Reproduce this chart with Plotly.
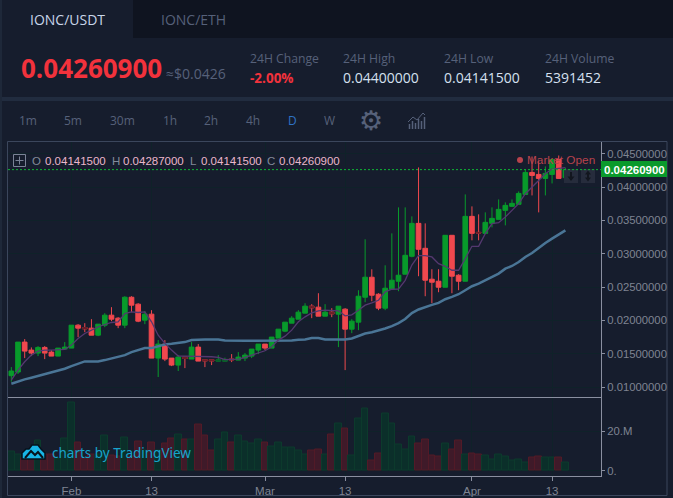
import pandas as pd
import plotly.graph_objects as go

SYMBOL_TABS = ["IONC/USDT", "IONC/ETH"]
INTERVALS = ["1m", "5m", "30m", "1h", "2h", "4h", "D", "W"]
PRICE_TICKS = [0.010, 0.015, 0.020, 0.025, 0.030, 0.035, 0.040, 0.045]
VOLUME_TICKS = [0, 20]
VOLUME_TICK_LABELS = ["0.", "20.M"]
DATE_TICKS = ["2020-02-01", "2020-02-13", "2020-03-01", "2020-03-13", "2020-04-01", "2020-04-13"]
DATE_TICK_LABELS = ["Feb", "13", "Mar", "13", "Apr", "13"]
dates = pd.date_range("2020-01-23", "2020-04-15", freq="D")

# prices in thousandths of a USDT
open_m = [11.70,12.25,16.74,15.54,15.09,15.94,15.24,14.64,15.69,15.84,19.28,18.93,18.83,17.78,19.28,20.78,20.33,19.28,23.47,22.43,20.03,20.93,14.34,16.44,14.34,13.29,14.49,14.19,15.99,14.09,14.09,13.89,13.89,
          14.19,14.04,14.34,14.64,15.54,16.44,15.84,17.34,18.38,19.58,20.18,21.08,22.13,21.98,20.63,21.23,20.93,21.68,18.68,19.73,23.47,26.47,23.92,21.83,24.67,
          25.87,26.92,29.61,34.55,30.81,26.17,25.87,24.97,32.76,26.77,25.87,35.60,33.20,33.05,34.55,35.15,36.50,37.10,37.40,38.89,42.19,41.89,41.29,41.89,44.13,41.415]
high_m = [12.99,16.74,17.19,15.94,16.14,16.14,15.54,15.84,16.74,19.28,19.43,19.58,20.18,19.43,21.08,21.98,20.48,23.62,23.62,22.58,21.38,21.53,17.04,17.04,14.34,14.79,14.49,16.74,16.44,14.09,14.09,14.79,14.40,
          14.94,15.24,15.09,15.69,16.44,16.44,17.49,18.68,19.73,20.63,21.53,22.57,22.43,24.07,22.43,21.83,22.13,21.83,20.18,24.52,32.16,27.66,24.07,28.26,33.05,
          36.95,36.95,35.60,42.94,34.55,27.67,27.67,32.76,32.76,26.92,38.89,37.10,35.90,36.20,36.95,38.14,37.70,38.14,39.34,42.64,44.58,43.98,43.09,44.28,44.73,42.87]
low_m = [10.80,11.95,14.34,14.64,14.64,14.19,14.64,14.64,15.69,15.84,17.48,18.23,17.78,17.63,18.98,19.88,18.83,18.83,21.23,19.73,19.43,14.34,11.50,13.89,13.14,12.40,12.84,14.19,13.89,12.99,13.29,13.89,13.89,
         13.74,14.04,13.89,14.34,14.94,15.54,15.84,17.34,18.23,19.58,20.18,21.08,20.33,20.63,20.63,20.48,15.99,12.54,18.08,18.53,22.72,22.87,21.53,21.53,24.67,
         24.37,26.92,29.46,26.62,23.62,22.58,24.22,24.97,24.07,24.52,25.87,32.01,32.01,33.05,33.95,35.15,34.25,37.10,37.40,38.89,38.74,36.20,38.74,40.54,41.29,41.415]
close_m = [12.40,16.74,15.39,15.09,15.94,15.09,14.64,15.84,15.99,19.28,18.83,18.73,17.78,19.43,20.78,20.18,19.28,23.47,22.28,19.88,20.93,14.34,16.44,14.19,13.29,14.49,14.29,15.99,13.89,13.94,13.94,14.04,14.14,
           14.09,14.49,14.79,15.69,16.44,15.84,17.49,18.68,19.73,20.33,21.23,22.13,21.88,20.63,21.23,20.98,22.13,18.68,19.88,23.62,26.47,23.77,21.83,24.82,26.02,
           26.77,29.76,34.55,30.66,26.02,25.72,24.97,32.76,26.62,25.87,35.60,33.05,33.10,34.70,35.30,36.65,37.25,37.55,39.04,42.19,41.74,41.29,42.04,44.13,41.29,42.609]
ma_short_m = [11.05,12.55,13.79,14.79,15.39,15.54,15.54,15.54,15.64,16.29,17.29,18.03,18.53,19.03,19.38,19.68,19.78,21.03,21.28,21.18,21.28,19.78,17.78,16.54,15.54,14.64,14.64,14.64,14.64,14.64,14.54,14.44,14.10,
              14.14,14.19,14.44,14.79,15.14,15.44,16.04,17.04,17.63,18.53,19.78,20.53,21.13,21.43,21.53,21.53,21.43,20.68,20.83,21.53,22.28,22.62,23.02,24.27,24.67,
              24.70,26.00,28.30,29.71,29.71,29.51,28.51,28.11,27.52,27.52,29.26,31.11,31.11,33.00,34.50,34.65,35.50,36.50,37.50,39.00,40.00,41.00,42.00,42.70,42.80,42.90]
ma_long_m = [10.50,10.85,11.15,11.40,11.65,11.90,12.25,12.50,12.74,13.14,13.54,13.84,13.84,13.84,14.04,14.29,14.44,14.79,15.24,15.54,15.84,15.84,16.14,16.39,16.49,16.59,16.74,17.04,17.14,17.14,17.14,17.14,16.99,
             16.94,16.94,16.94,16.94,16.94,16.94,16.94,16.94,16.94,16.99,17.09,17.14,17.34,17.34,17.14,17.14,17.14,17.14,17.29,17.63,18.03,18.23,18.48,18.78,19.13,
             19.60,20.20,21.10,21.63,22.03,22.33,22.63,23.17,23.52,23.92,24.52,25.12,25.52,26.02,26.52,27.02,27.76,28.16,28.76,29.51,30.11,30.91,31.61,32.26,32.91,33.50]
volume_M = [9.7,8.2,6.1,6.1,15.3,8.2,8.2,6.1,16.3,34.7,14.3,6.1,8.2,8.2,17.9,7.7,7.1,16.8,7.1,14.8,10.2,14.3,10.2,13.8,16.3,18.4,15.8,15.8,23.5,17.9,10.2,15.8,19.4,
            14.3,17.9,14.8,13.8,15.8,14.3,12.2,14.3,11.7,11.7,10.2,8.5,10.2,10.7,8.5,18.4,24.0,21.4,7.7,26.5,31.6,5.1,8.7,29.1,24.0,
            13.3,10.7,17.3,13.8,15.8,7.7,7.1,13.8,10.7,15.3,8.2,8.7,8.2,7.7,5.6,8.2,7.1,5.1,5.6,4.1,6.6,7.1,6.6,6.6,6.6,4.1]

W, H = 673, 498
GREEN, RED = "#089a2b", "#f0484e"
SANS, ARIAL = "Open Sans", "Liberation Sans"

def scale(values):
    return [v / 1000 for v in values]

def X(px):
    return px / W

def Y(py):
    return 1 - py / H

annotations, shapes = [], []

def text(px, py, s, size, color, anchor="left", family=SANS, bold=False):
    annotations.append(dict(xref="paper", yref="paper", x=X(px), y=Y(py), text=f"<b>{s}</b>" if bold else s,
                            showarrow=False, xanchor=anchor, yanchor="middle", borderpad=0,
                            font=dict(size=size, color=color, family=family)))

def rect(x0, y0, x1, y1, fill, line=None, layer="below", width=1):
    shapes.append(dict(type="rect", xref="paper", yref="paper", x0=X(x0), x1=X(x1), y0=Y(y0), y1=Y(y1),
                       fillcolor=fill, layer=layer, line=dict(color=line or fill, width=width if line else 0)))

def hline(x0, x1, y, color, width=1):
    shapes.append(dict(type="line", xref="paper", yref="paper", x0=X(x0), x1=X(x1), y0=Y(y), y1=Y(y),
                       layer="above", line=dict(color=color, width=width)))

def vline(x, y0, y1, color, width=1):
    shapes.append(dict(type="line", xref="paper", yref="paper", x0=X(x), x1=X(x), y0=Y(y0), y1=Y(y1),
                       layer="above", line=dict(color=color, width=width)))

def poly(points, fill=None, line=None, width=1, close=True):
    d = "M " + " L ".join(f"{X(a):.5f},{Y(b):.5f}" for a, b in points) + (" Z" if close else "")
    shapes.append(dict(type="path", xref="paper", yref="paper", path=d, layer="above",
                       fillcolor=fill or "rgba(0,0,0,0)", line=dict(color=line or "rgba(0,0,0,0)", width=width)))

# page chrome
rect(0, 0, W, H, "#161d2d")
rect(0, 0, W, 38, "#0f1420")
rect(0, 0, 133, 38, "#161d2d")
rect(0, 97, W, 101, "#212c3f")
rect(0, 0, 2, H, "#1e2839")
text(67.5, 19, SYMBOL_TABS[0], 14, "#c8d6ea", "center")
text(193, 19, SYMBOL_TABS[1], 14, "#56617a", "center")
text(20, 68, "0.04260900", 26, "#f2323c", bold=True)
text(165, 73, "≈$0.0426", 14, "#56617a")
text(249, 58, "24H Change", 12.2, "#56617a")
text(249, 78, "-2.00%", 13.5, "#f2323c", bold=True)
text(342, 58, "24H High", 12.2, "#56617a")
text(342, 78, "0.04400000", 14, "#d5e0f0")
text(443, 58, "24H Low", 12.2, "#56617a")
text(443, 78, "0.04141500", 14, "#d5e0f0")
text(544, 58, "24H Volume", 12.2, "#56617a")
text(544, 78, "5391452", 14, "#d5e0f0")

for label, cx in zip(INTERVALS, [28, 73, 122, 169.5, 211, 253, 292, 329]):
    text(cx, 120, label, 12, "#2f73c4" if label == "D" else "#56617a", "center")
text(371, 120.5, "⚙", 27, "#56617a", "center", "DejaVu Sans")
for i, h in enumerate([5, 8, 6, 10, 8, 12]):
    vline(409.5 + i * 3, 129 - h, 129, "#56617a", 1.5)
poly([(408, 122), (413, 117), (417, 120), (423, 113), (425, 115)], line="#56617a", close=False)

# frame
rect(7.5, 141.5, 667, 495.5, "rgba(0,0,0,0)", "#3b465c")

# legend row
rect(13.5, 154.5, 25.5, 166.5, "rgba(0,0,0,0)", "#7a8296", "above")
hline(15.5, 23.5, 160.5, "#7a8296")
vline(19.5, 156.5, 164.5, "#7a8296")
for lab, lx, val, vx in [("O", 31, "0.04141500", 43.5), ("H", 110.5, "0.04287000", 122),
                         ("L", 189, "0.04141500", 199.5), ("C", 266, "0.04260900", 277.5)]:
    text(lx, 160.5, lab, 11.5, "#838a9a", family=ARIAL)
    text(vx, 160.5, val, 11.5, "#eab7cb", family=ARIAL)
shapes.append(dict(type="circle", xref="paper", yref="paper", x0=X(517), x1=X(523), y0=Y(163), y1=Y(157),
                   layer="above", fillcolor="#b8434c", line=dict(width=0)))

# scroll buttons
rect(564, 169, 578, 183, "#262c3c", layer="above")
rect(581, 169, 595, 183, "#262c3c", layer="above")
vline(571, 172, 180, "#12161f", 2)
poly([(567.5, 176.5), (574.5, 176.5), (571, 181)], fill="#12161f")
vline(588, 173, 179, "#12161f", 2)
poly([(585, 174.5), (591, 174.5), (588, 170.5)], fill="#12161f")
poly([(585, 177.5), (591, 177.5), (588, 181.5)], fill="#12161f")

# last-price line and label
shapes.append(dict(type="line", xref="x domain", yref="y", x0=0, x1=1, y0=close_m[-1] / 1000, y1=close_m[-1] / 1000,
                   layer="above", line=dict(color="#0fb535", width=1, dash="2px,2px")))
rect(601, 161, 667, 177, "#0a9a2c", layer="above")
text(634, 169.5, "0.04260900", 11.5, "#ffffff", "center", ARIAL, True)
text(526, 160, "Market Open", 11.8, "#b8434c", family=ARIAL)

# TradingView watermark
poly([(22, 459), (22, 453), (26, 449), (29, 449), (32, 445), (38, 445), (41, 449), (45, 453), (45, 459)], fill="#18b5e6", line="#06121c", width=1.5)
poly([(25, 458), (31, 451), (35, 455), (38, 452), (43, 458)], line="#06121c", width=2, close=False)
text(51, 452.5, "charts by TradingView", 13.5, "#18a3cc", family="Noto Sans")

vol_colors = ["#0b2f2a" if c >= o else "#3f1a29" for o, c in zip(open_m, close_m)]
vol_lines = ["#0c3a2c" if c >= o else "#521a27" for o, c in zip(open_m, close_m)]

# very small bodies read as darker than the wick
doji = [i for i, (o, c) in enumerate(zip(open_m, close_m)) if abs(o - c) < 0.26]
doji_o = [open_m[i] for i in doji]
doji_c = [close_m[i] for i in doji]

fig = go.Figure()
fig.add_trace(go.Bar(x=dates, y=volume_M, xaxis="x", yaxis="y2", width=86400000,
                     marker=dict(color=vol_colors, line=dict(color=vol_lines, width=1)), hoverinfo="skip"))
fig.add_trace(go.Scatter(x=dates, y=scale(ma_long_m), xaxis="x", yaxis="y", mode="lines",
                         line=dict(color="#4a7596", width=2.5), hoverinfo="skip"))
fig.add_trace(go.Scatter(x=dates, y=scale(ma_short_m), xaxis="x", yaxis="y", mode="lines",
                         line=dict(color="#54386f", width=1.3), hoverinfo="skip"))
fig.add_trace(go.Candlestick(x=dates, open=scale(open_m), high=scale(high_m), low=scale(low_m), close=scale(close_m),
                             xaxis="x", yaxis="y", whiskerwidth=0,
                             increasing=dict(line=dict(color=GREEN, width=1), fillcolor=GREEN),
                             decreasing=dict(line=dict(color=RED, width=1), fillcolor=RED), hoverinfo="skip"))
fig.add_trace(go.Candlestick(x=[dates[i] for i in doji], open=scale(doji_o), close=scale(doji_c),
                             high=scale([max(o, c) for o, c in zip(doji_o, doji_c)]),
                             low=scale([min(o, c) for o, c in zip(doji_o, doji_c)]),
                             xaxis="x", yaxis="y", whiskerwidth=0,
                             increasing=dict(line=dict(color="#0b5a2a", width=1), fillcolor="#0b5a2a"),
                             decreasing=dict(line=dict(color="#6a1f28", width=1), fillcolor="#6a1f28"), hoverinfo="skip"))

GRID = "#0f2229"
TICK = dict(family=ARIAL, size=11.3, color="#7f8492")
fig.update_layout(
    width=W, height=H, autosize=False, showlegend=False, margin=dict(l=0, r=0, t=0, b=0),
    paper_bgcolor="#161d2d", plot_bgcolor="#141b2b", boxgap=0.3, boxgroupgap=0, boxmode="overlay", bargap=0,
    annotations=annotations, shapes=shapes,
    xaxis=dict(domain=[X(8), X(601)], anchor="y2", type="date", range=["2020-01-22 12:00", "2020-04-20 08:00"],
               rangeslider=dict(visible=False), tickmode="array", tickvals=DATE_TICKS, ticktext=DATE_TICK_LABELS,
               ticks="outside", ticklen=4, tickcolor="#8a8fa0", showline=True, linecolor="#8a8fa0", linewidth=1,
               showgrid=True, gridcolor=GRID, gridwidth=1, zeroline=False,
               tickfont=dict(family=ARIAL, size=11.5, color="#7f8492")),
    yaxis=dict(domain=[Y(397.5), Y(141.5)], anchor="x", side="right", range=[0.00843, 0.04683], tickmode="array",
               tickvals=PRICE_TICKS, tickformat=".8f", ticks="outside", ticklen=3, tickcolor="#8a8fa0",
               showline=True, linecolor="#8a8fa0", linewidth=1, showgrid=True, gridcolor=GRID, zeroline=False, tickfont=TICK),
    yaxis2=dict(domain=[Y(476), Y(397.5)], anchor="x", side="right", range=[-2.54, 37.1], tickmode="array",
                tickvals=VOLUME_TICKS, ticktext=VOLUME_TICK_LABELS, ticks="outside", ticklen=3, tickcolor="#8a8fa0",
                showline=True, linecolor="#8a8fa0", linewidth=1, showgrid=True, gridcolor=GRID, zeroline=False, tickfont=TICK),
)
hline(8, 601, 397.5, "#8a8fa0")
fig.update_layout(shapes=shapes)
fig.write_html("out.html", config=dict(displayModeBar=False),
               post_script="document.documentElement.style.margin='0';document.body.style.margin='0';document.body.style.overflow='hidden';")
